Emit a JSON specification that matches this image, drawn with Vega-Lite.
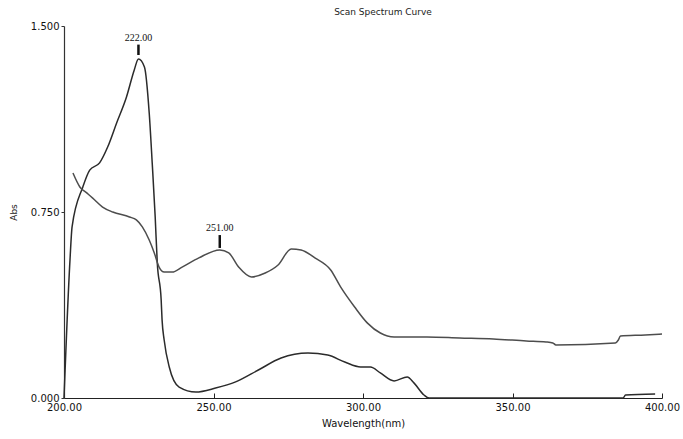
{
  "$schema": "https://vega.github.io/schema/vega-lite/v6.json",
  "width": 598,
  "height": 372,
  "autosize": {"type": "none"},
  "padding": {"left": 64, "top": 26, "right": 21, "bottom": 41},
  "background": "white",
  "view": {"stroke": null},
  "title": {"text": "Scan Spectrum Curve", "fontSize": 9, "font": "DejaVu Sans", "fontWeight": "normal", "color": "#222", "anchor": "middle", "dx": 20, "offset": 4},
  "datasets": {
    "spectra": [
      {"series": "A", "nm": 200.0, "abs": 0.0},
      {"series": "A", "nm": 202.0, "abs": 0.556},
      {"series": "A", "nm": 202.7, "abs": 0.69},
      {"series": "A", "nm": 206.3, "abs": 0.851},
      {"series": "A", "nm": 208.6, "abs": 0.919},
      {"series": "A", "nm": 211.9, "abs": 0.948},
      {"series": "A", "nm": 214.6, "abs": 1.012},
      {"series": "A", "nm": 217.6, "abs": 1.109},
      {"series": "A", "nm": 220.9, "abs": 1.214},
      {"series": "A", "nm": 223.5, "abs": 1.323},
      {"series": "A", "nm": 224.9, "abs": 1.367},
      {"series": "A", "nm": 226.9, "abs": 1.335},
      {"series": "A", "nm": 228.5, "abs": 1.149},
      {"series": "A", "nm": 229.5, "abs": 0.948},
      {"series": "A", "nm": 230.5, "abs": 0.73},
      {"series": "A", "nm": 231.2, "abs": 0.544},
      {"series": "A", "nm": 232.5, "abs": 0.395},
      {"series": "A", "nm": 232.8, "abs": 0.315},
      {"series": "A", "nm": 233.5, "abs": 0.234},
      {"series": "A", "nm": 235.2, "abs": 0.125},
      {"series": "A", "nm": 238.5, "abs": 0.044},
      {"series": "A", "nm": 244.1, "abs": 0.024},
      {"series": "A", "nm": 250.7, "abs": 0.04},
      {"series": "A", "nm": 257.4, "abs": 0.065},
      {"series": "A", "nm": 265.0, "abs": 0.113},
      {"series": "A", "nm": 272.6, "abs": 0.161},
      {"series": "A", "nm": 281.6, "abs": 0.181},
      {"series": "A", "nm": 288.2, "abs": 0.173},
      {"series": "A", "nm": 293.9, "abs": 0.145},
      {"series": "A", "nm": 299.2, "abs": 0.125},
      {"series": "A", "nm": 302.5, "abs": 0.125},
      {"series": "A", "nm": 305.8, "abs": 0.101},
      {"series": "A", "nm": 310.4, "abs": 0.069},
      {"series": "A", "nm": 314.8, "abs": 0.085},
      {"series": "A", "nm": 317.1, "abs": 0.06},
      {"series": "A", "nm": 320.4, "abs": 0.012},
      {"series": "A", "nm": 322.1, "abs": 0.0},
      {"series": "A", "nm": 387.0, "abs": 0.0},
      {"series": "A", "nm": 387.8, "abs": 0.012},
      {"series": "A", "nm": 397.7, "abs": 0.016},
      {"series": "B", "nm": 203.0, "abs": 0.907},
      {"series": "B", "nm": 205.3, "abs": 0.851},
      {"series": "B", "nm": 207.6, "abs": 0.827},
      {"series": "B", "nm": 209.6, "abs": 0.806},
      {"series": "B", "nm": 212.9, "abs": 0.77},
      {"series": "B", "nm": 216.3, "abs": 0.75},
      {"series": "B", "nm": 221.9, "abs": 0.73},
      {"series": "B", "nm": 224.2, "abs": 0.718},
      {"series": "B", "nm": 226.2, "abs": 0.69},
      {"series": "B", "nm": 228.5, "abs": 0.637},
      {"series": "B", "nm": 230.2, "abs": 0.585},
      {"series": "B", "nm": 231.8, "abs": 0.528},
      {"series": "B", "nm": 233.5, "abs": 0.508},
      {"series": "B", "nm": 236.2, "abs": 0.508},
      {"series": "B", "nm": 239.5, "abs": 0.528},
      {"series": "B", "nm": 245.1, "abs": 0.565},
      {"series": "B", "nm": 252.1, "abs": 0.597},
      {"series": "B", "nm": 255.1, "abs": 0.585},
      {"series": "B", "nm": 258.4, "abs": 0.528},
      {"series": "B", "nm": 262.7, "abs": 0.488},
      {"series": "B", "nm": 267.3, "abs": 0.504},
      {"series": "B", "nm": 271.6, "abs": 0.536},
      {"series": "B", "nm": 276.0, "abs": 0.601},
      {"series": "B", "nm": 279.3, "abs": 0.597},
      {"series": "B", "nm": 283.9, "abs": 0.565},
      {"series": "B", "nm": 289.2, "abs": 0.516},
      {"series": "B", "nm": 292.5, "abs": 0.448},
      {"series": "B", "nm": 297.2, "abs": 0.367},
      {"series": "B", "nm": 301.5, "abs": 0.302},
      {"series": "B", "nm": 305.8, "abs": 0.262},
      {"series": "B", "nm": 310.4, "abs": 0.246},
      {"series": "B", "nm": 321.4, "abs": 0.246},
      {"series": "B", "nm": 332.3, "abs": 0.242},
      {"series": "B", "nm": 343.6, "abs": 0.238},
      {"series": "B", "nm": 354.6, "abs": 0.23},
      {"series": "B", "nm": 361.2, "abs": 0.226},
      {"series": "B", "nm": 363.5, "abs": 0.222},
      {"series": "B", "nm": 364.5, "abs": 0.214},
      {"series": "B", "nm": 384.4, "abs": 0.222},
      {"series": "B", "nm": 385.4, "abs": 0.234},
      {"series": "B", "nm": 386.1, "abs": 0.25},
      {"series": "B", "nm": 394.4, "abs": 0.254},
      {"series": "B", "nm": 400.0, "abs": 0.258}
    ],
    "peaks": [
      {"nm": 224.9, "tick_lo": 1.383, "tick_hi": 1.425, "text_abs": 1.452, "label": "222.00"},
      {"nm": 252.1, "tick_lo": 0.605, "tick_hi": 0.657, "text_abs": 0.685, "label": "251.00"}
    ]
  },
  "layer": [
    {
      "data": {"name": "spectra"},
      "mark": {"type": "line", "strokeWidth": 1.5, "interpolate": "monotone"},
      "encoding": {
        "x": {
          "field": "nm", "type": "quantitative",
          "scale": {"domain": [200, 400], "nice": false, "zero": false},
          "axis": {
            "title": "Wavelength(nm)", "values": [200, 250, 300, 350, 400], "format": ".2f",
            "grid": false, "domainColor": "#222", "domainWidth": 1.2, "tickColor": "#222",
            "tickSize": -5, "labelPadding": 9, "labelFont": "DejaVu Sans", "labelFontSize": 10,
            "labelColor": "#111", "titleFont": "DejaVu Sans", "titleFontSize": 10,
            "titleFontWeight": "normal", "titleColor": "#111", "titlePadding": 6, "labelFlush": false
          }
        },
        "y": {
          "field": "abs", "type": "quantitative",
          "scale": {"domain": [0, 1.5], "nice": false},
          "axis": {
            "title": "Abs", "values": [0, 0.75, 1.5], "format": ".3f",
            "grid": false, "domainColor": "#333", "domainWidth": 1.2, "tickColor": "#333",
            "tickSize": 3, "labelPadding": 2, "labelFont": "DejaVu Sans", "labelFontSize": 10,
            "labelColor": "#111", "titleFont": "DejaVu Sans", "titleFontSize": 9,
            "titleFontWeight": "normal", "titleColor": "#222", "titlePadding": 12
          }
        },
        "color": {
          "field": "series", "type": "nominal",
          "scale": {"domain": ["A", "B"], "range": ["#2b2b2b", "#4d4d4d"]},
          "legend": null
        }
      }
    },
    {
      "data": {"name": "peaks"},
      "mark": {"type": "rule", "strokeWidth": 2.5, "color": "#111"},
      "encoding": {
        "x": {"field": "nm", "type": "quantitative"},
        "y": {"field": "tick_lo", "type": "quantitative"},
        "y2": {"field": "tick_hi"}
      }
    },
    {
      "data": {"name": "peaks"},
      "mark": {"type": "text", "font": "Liberation Serif", "fontSize": 10, "color": "#111", "baseline": "middle", "align": "center"},
      "encoding": {
        "x": {"field": "nm", "type": "quantitative"},
        "y": {"field": "text_abs", "type": "quantitative"},
        "text": {"field": "label"}
      }
    }
  ]
}
